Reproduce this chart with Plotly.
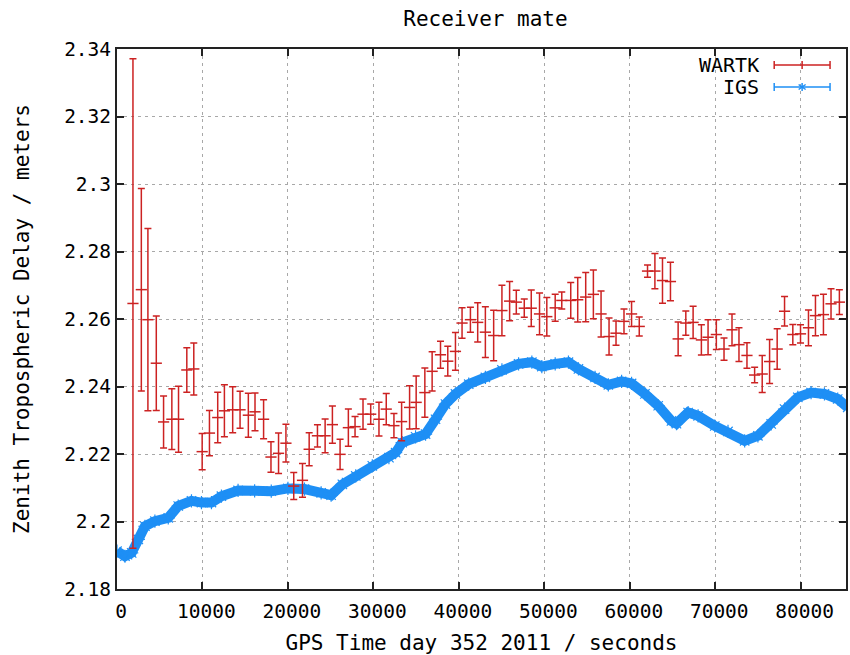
import plotly.graph_objects as go

# ---------------- data ----------------
wartk_t = [1867, 2847, 3617, 4597, 5449, 6418, 7200, 8168, 8985, 9965,
           10817, 11785, 12567, 13536, 14399, 15368, 16149, 17153, 18016, 18903,
           19767, 20680, 21704, 22486, 23454, 24352, 25204, 26102, 27071, 27853,
           28786, 29685, 30653, 31505, 32404, 33302, 34236, 35006, 36021, 36873,
           37853, 38705, 39603, 40374, 41354, 42205, 43103, 44073, 45041, 45940,
           46722, 47655, 48472, 49440, 50292, 51272, 52042, 53092, 53909, 54843,
           55741, 56640, 57573, 58390, 59323, 60210, 61109, 62077, 62940, 63827,
           64760, 65659, 66557, 67410, 68378, 69160, 70128, 71027, 71961, 72777,
           73711, 74609, 75496, 76359, 77246, 78110, 79078, 79977, 80910, 81727,
           82660, 83547, 84527]
wartk_ztd = [2.2646, 2.2687, 2.2598, 2.2469, 2.2295, 2.2303, 2.2303, 2.2449, 2.2452, 2.2207,
             2.2262, 2.2308, 2.2328, 2.2331, 2.2331, 2.2315, 2.2325, 2.2303, 2.2191, 2.2202,
             2.2232, 2.2105, 2.2122, 2.2214, 2.2254, 2.2254, 2.2287, 2.2199, 2.2278, 2.2281,
             2.2318, 2.2318, 2.2303, 2.2333, 2.2284, 2.2296, 2.2338, 2.2353, 2.2382, 2.2445,
             2.2494, 2.2475, 2.2504, 2.2588, 2.2598, 2.2590, 2.2561, 2.2551, 2.2625, 2.2653,
             2.2650, 2.2632, 2.2632, 2.2615, 2.2607, 2.2633, 2.2655, 2.2655, 2.2657, 2.2665,
             2.2673, 2.2615, 2.2548, 2.2558, 2.2593, 2.2615, 2.2578, 2.2742, 2.2742, 2.2714,
             2.2711, 2.2541, 2.2588, 2.2590, 2.2538, 2.2546, 2.2554, 2.2511, 2.2568, 2.2524,
             2.2492, 2.2434, 2.2437, 2.2474, 2.2511, 2.2623, 2.2554, 2.2556, 2.2574, 2.2610,
             2.2613, 2.2645, 2.2650]
wartk_err = [0.0725, 0.030, 0.027, 0.014, 0.0077, 0.009, 0.0098, 0.0066, 0.0077, 0.0054,
             0.0067, 0.0075, 0.0077, 0.0068, 0.0055, 0.0065, 0.0056, 0.0058, 0.0045, 0.006,
             0.0056, 0.004, 0.005, 0.0049, 0.0033, 0.005, 0.0055, 0.0045, 0.0055, 0.003,
             0.0045, 0.003, 0.005, 0.0046, 0.0036, 0.0057, 0.0064, 0.0078, 0.0073, 0.0058,
             0.004, 0.0044, 0.0056, 0.0045, 0.0037, 0.0058, 0.0075, 0.0075, 0.0075, 0.0058,
             0.0035, 0.0027, 0.0054, 0.0062, 0.0057, 0.004, 0.0025, 0.0053, 0.0066, 0.0073,
             0.0072, 0.0068, 0.0055, 0.0036, 0.0037, 0.0037, 0.0028, 0.0018, 0.0052, 0.0067,
             0.0057, 0.005, 0.0036, 0.0048, 0.0045, 0.0052, 0.0044, 0.0033, 0.0047, 0.005,
             0.0038, 0.0023, 0.0055, 0.0065, 0.006, 0.0044, 0.003, 0.0027, 0.0053, 0.006,
             0.006, 0.0045, 0.0037]

igs_t = [0, 933, 1715, 2497, 3267, 4434, 5998, 7165, 8716, 9883,
         11050, 12217, 14166, 16103, 18051, 20000, 21937, 23886, 25053, 26371,
         27935, 29872, 31820, 32602, 33372, 34936, 36103, 37270, 38436, 39603,
         41155, 43104, 45041, 46989, 48541, 49708, 51272, 52824, 53991, 55939,
         57491, 59043, 60210, 61774, 63326, 64877, 65461, 66826, 67993, 69942,
         71494, 73442, 74994, 76546, 78110, 79662, 81214, 82777, 84329, 85496]
igs_ztd = [2.1912, 2.1897, 2.1907, 2.1947, 2.1986, 2.2001, 2.2011, 2.2046, 2.2061, 2.2056,
           2.2056, 2.2075, 2.2092, 2.2091, 2.2090, 2.2098, 2.2096, 2.2085, 2.2078, 2.2110,
           2.2135, 2.2165, 2.2189, 2.2204, 2.2234, 2.2251, 2.2259, 2.2303, 2.2348, 2.2378,
           2.2407, 2.2427, 2.2449, 2.2467, 2.2472, 2.2459, 2.2467, 2.2472, 2.2452, 2.2427,
           2.2405, 2.2415, 2.2409, 2.2378, 2.2343, 2.2298, 2.2290, 2.2323, 2.2313, 2.2283,
           2.2267, 2.2239, 2.2254, 2.2289, 2.2333, 2.2368, 2.2382, 2.2378, 2.2363, 2.2338]

x_ticks = [0, 10000, 20000, 30000, 40000, 50000, 60000, 70000, 80000]
x_tick_labels = ["0", "10000", "20000", "30000", "40000", "50000", "60000", "70000", "80000"]
y_ticks = [2.18, 2.20, 2.22, 2.24, 2.26, 2.28, 2.30, 2.32, 2.34]
y_tick_labels = ["2.18", "2.2", "2.22", "2.24", "2.26", "2.28", "2.3", "2.32", "2.34"]

RED = "#cc2222"
BLUE = "#1e8ff5"
FONT = "DejaVu Sans Mono"

fig = go.Figure()

fig.add_trace(go.Scatter(
    x=igs_t, y=igs_ztd, mode="lines+markers", name="IGS",
    line=dict(color=BLUE, width=10),
    marker=dict(symbol="asterisk-open", size=11, color=BLUE, line=dict(color=BLUE, width=1.2)),
    showlegend=False,
))

fig.add_trace(go.Scatter(
    x=wartk_t, y=wartk_ztd, mode="markers", name="WARTK",
    marker=dict(symbol="line-ew", size=8, color=RED, line=dict(color=RED, width=1.5)),
    error_y=dict(type="data", array=wartk_err, visible=True, color=RED, thickness=1.5, width=3.5),
    showlegend=False,
))

# ---------- layout ----------
W, H = 850, 655
L, R, T, B = 117, 2, 49, 66
pw, ph = W - L - R, H - T - B

def px2paper_x(px):
    return (px - L) / pw

def py2paper_y(py):
    return (H - B - py) / ph

fig.update_layout(
    width=W, height=H,
    margin=dict(l=L, r=R, t=T, b=B),
    paper_bgcolor="white", plot_bgcolor="white",
    font=dict(family=FONT, size=20, color="black"),
    title=dict(text="Receiver mate", x=px2paper_x(486.5), xref="paper", y=1 - 19 / H, yref="container",
               xanchor="center", yanchor="middle", font=dict(family=FONT, size=21, color="black")),
    xaxis=dict(
        range=[0, 85300], tickvals=x_ticks, ticktext=x_tick_labels,
        showgrid=True, gridcolor="#a8a8a8", griddash="3px,4px", gridwidth=1,
        showline=True, linecolor="#222222", linewidth=2, mirror="ticks",
        ticks="inside", ticklen=7, tickcolor="#222222", tickwidth=1.5,
        zeroline=False, tickfont=dict(family=FONT, size=19.5),
        ticklabelshift=4, ticklabelstandoff=4,
        title=dict(text="GPS Time day 352 2011 / seconds", font=dict(family=FONT, size=21), standoff=13),
    ),
    yaxis=dict(
        range=[2.18, 2.34], tickvals=y_ticks, ticktext=y_tick_labels,
        showgrid=True, gridcolor="#a8a8a8", griddash="3px,4px", gridwidth=1,
        showline=True, linecolor="#222222", linewidth=2, mirror="ticks",
        ticks="inside", ticklen=7, tickcolor="#222222", tickwidth=1.5,
        zeroline=False, tickfont=dict(family=FONT, size=19.5),
        title=dict(text="Zenith Tropospheric Delay / meters", font=dict(family=FONT, size=21), standoff=29),
    ),
)

# ---------- manual legend (gnuplot style: text then sample) ----------
leg_items = [("WARTK", RED, 65), ("IGS", BLUE, 87)]
for name, col, py in leg_items:
    yp = py2paper_y(py)
    fig.add_annotation(text=name, x=px2paper_x(763), y=yp, xref="paper", yref="paper",
                       xanchor="right", yanchor="middle", showarrow=False,
                       font=dict(family=FONT, size=20, color="black"))
    x0, x1 = px2paper_x(776), px2paper_x(832)
    fig.add_shape(type="line", xref="paper", yref="paper", x0=x0, x1=x1, y0=yp, y1=yp,
                  line=dict(color=col, width=1.5))
    for xx in (x0, x1):
        fig.add_shape(type="line", xref="paper", yref="paper", x0=xx, x1=xx,
                      y0=py2paper_y(py - 4), y1=py2paper_y(py + 4), line=dict(color=col, width=1.5))
    xm = px2paper_x(804)
    if name == "WARTK":
        fig.add_shape(type="line", xref="paper", yref="paper", x0=xm, x1=xm,
                      y0=py2paper_y(py - 4), y1=py2paper_y(py + 4), line=dict(color=col, width=1.5))
    else:
        for dx, dy in ((0, 4), (3.5, 2.5), (-3.5, 2.5)):
            fig.add_shape(type="line", xref="paper", yref="paper",
                          x0=px2paper_x(804 - dx), x1=px2paper_x(804 + dx),
                          y0=py2paper_y(py - dy), y1=py2paper_y(py + dy),
                          line=dict(color=col, width=1.5))

fig.write_html("out.html")
